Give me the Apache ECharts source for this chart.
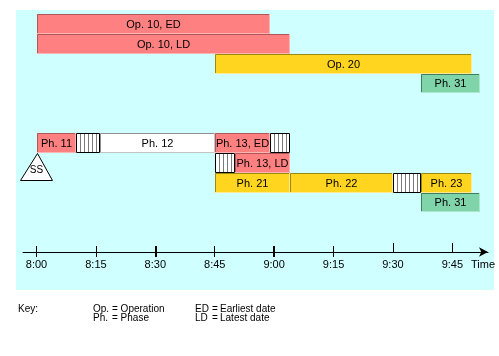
<!DOCTYPE html>
<html>
<head>
<meta charset="utf-8">
<script src="https://cdn.jsdelivr.net/npm/echarts@6/dist/echarts.min.js"></script>
<style>
html,body{margin:0;padding:0;background:#fff;}
#chart{width:499px;height:356px;}
</style>
</head>
<body>
<div id="chart"></div>
<script>
// Data: times in minutes after 8:00
const labels = ['Op. 10, ED','Op. 10, LD','Op. 20','Ph. 31','Ph. 11','','Ph. 12','Ph. 13, ED','','','Ph. 13, LD','Ph. 21','Ph. 22','','Ph. 23','Ph. 31','SS'];
const starts = [0, 0, 45, 97, 0, 10, 16, 45, 59, 45, 50, 45, 64, 90, 97, 97, 0];
const ends   = [59, 64, 110, 112, 10, 16, 45, 59, 64, 50, 64, 64, 90, 97, 110, 112, 0];
const rows   = [0, 1, 2, 3, 6, 6, 6, 6, 6, 7, 7, 8, 8, 8, 8, 9, 6];
const kinds  = ['red','red','yellow','green','red','hatch','white','red','hatch','hatch','red','yellow','yellow','hatch','yellow','green','ss'];

const tickValues = [0, 15, 30, 45, 60, 75, 90, 105];
const tickLabels = ['8:00','8:15','8:30','8:45','9:00','9:15','9:30','9:45'];
const thickTicks = [30, 60];
const normalTicks = [0, 15, 45, 75];
const longTicks = [90, 105];

const keyRows = [
  ['Op.', '= Operation', 'ED', '=', 'Earliest date'],
  ['Ph.', '= Phase', 'LD', '=', 'Latest date']
];

const palette = {
  red:    {fill:'#FF8080', dark:'#B05858', light:'#FFB4B4'},
  yellow: {fill:'#FFD520', dark:'#9A8A10', light:'#FFE890'},
  green:  {fill:'#7FD4AA', dark:'#3E7E5E', light:'#AEE8CC'},
  white:  {fill:'#FFFFFF', dark:'#909090', light:'#C4C4C4'}
};
const FONT = '11px "Liberation Sans", Arial, sans-serif';
const KEYFONT = '10px "Liberation Sans", Arial, sans-serif';

function renderItem(params, api) {
  const i = params.dataIndex;
  const kind = kinds[i];
  const p0 = api.coord([api.value(0), api.value(2)]);
  const p1 = api.coord([api.value(1), api.value(2) + 1]);
  const x0 = Math.round(p0[0]), y0 = Math.round(p0[1]);
  const x1 = Math.round(p1[0]), y1 = Math.round(p1[1]);
  if (kind === 'ss') {
    const ax = x0 + 0.5, ay = y1 + 0.5;
    return {type:'group', children:[
      {type:'polygon', shape:{points:[[ax, ay],[ax-17, ay+27],[ax+15, ay+27]]},
       style:{fill:'#fff', stroke:'#000', lineWidth:1}},
      {type:'text', style:{x:ax-1, y:ay+17, text:labels[i], align:'center', verticalAlign:'middle',
        font:'10px "Liberation Sans", sans-serif', fill:'#000'}}
    ]};
  }
  const w = x1 - x0, h = y1 - y0;
  const children = [];
  if (kind === 'hatch') {
    children.push({type:'rect', shape:{x:x0, y:y0, width:w, height:h}, style:{fill:'#fff'}});
    for (let xx = x0 + 4; xx < x1 - 1; xx += 4) {
      children.push({type:'line', shape:{x1:xx+0.5, y1:y0, x2:xx+0.5, y2:y1}, style:{stroke:'#7a7a7a', lineWidth:1}});
    }
    children.push({type:'rect', shape:{x:x0+0.5, y:y0+0.5, width:w-1, height:h-1}, style:{fill:'none', stroke:'#000', lineWidth:1}});
  } else {
    const c = palette[kind];
    children.push({type:'rect', shape:{x:x0, y:y0, width:w, height:h}, style:{fill:c.fill}});
    children.push({type:'polyline', shape:{points:[[x0, y1-0.5],[x1-0.5, y1-0.5],[x1-0.5, y0]]}, style:{stroke:c.light, lineWidth:1, fill:'none'}});
    children.push({type:'polyline', shape:{points:[[x0+0.5, y1-1],[x0+0.5, y0+0.5],[x1-1, y0+0.5]]}, style:{stroke:c.dark, lineWidth:1, fill:'none'}});
  }
  if (labels[i]) {
    children.push({type:'text', style:{x:(x0+x1)/2, y:(y0+y1)/2 + 0.5, text:labels[i], align:'center', verticalAlign:'middle', font:FONT, fill:'#000'}});
  }
  return {type:'group', children};
}

const XMIN = -3.41, XMAX = 114.0;
const GRID = {left:23, right:11, top:14, bottom:104, containLabel:false};
function tickAxis(g, values, inside, len, width) {
  return {
    type:'value', min:XMIN, max:XMAX, position:'bottom', gridIndex:g,
    axisLine:{show:false, onZero:false}, axisLabel:{show:false}, splitLine:{show:false},
    axisTick:{show:true, inside:inside, length:len, customValues:values, lineStyle:{color:'#000', width:width}}
  };
}
const extraTicks = [
  [thickTicks, true, 6, 2],
  [longTicks, true, 9, 1],
  [normalTicks, false, 5, 1],
  [thickTicks, false, 5, 2]
];

const chart = echarts.init(document.getElementById('chart'), null, {renderer:'canvas'});
chart.setOption({
  animation:false,
  backgroundColor:'#fff',
  graphic:[
    {type:'rect', z:-10, shape:{x:16, y:10, width:478, height:280}, style:{fill:'#D0FFFF'}},
    ...keyRows.flatMap((r, k) => {
      const y = 309 + k*9;
      const xs = [93, 112, 195, 212, 220];
      const items = r.map((t, j) => ({type:'text', style:{x:xs[j], y:y, text:t, verticalAlign:'middle', font:KEYFONT, fill:'#000'}}));
      if (k === 0) items.push({type:'text', style:{x:18, y:y, text:'Key:', verticalAlign:'middle', font:KEYFONT, fill:'#000'}});
      return items;
    })
  ],
  grid: [0,1,2,3,4].map(() => Object.assign({}, GRID)),
  xAxis:[
    {
      type:'value', min:XMIN, max:XMAX, position:'bottom', gridIndex:0,
      axisLine:{show:true, onZero:false, lineStyle:{color:'#000', width:1}, symbol:['none','arrow'], symbolSize:[7,9]},
      axisTick:{show:true, inside:true, length:6, customValues:normalTicks, lineStyle:{color:'#000'}},
      axisLabel:{show:true, customValues:tickValues, margin:7, color:'#000',
        fontFamily:'"Liberation Sans", Arial, sans-serif', fontSize:11,
        formatter:(v) => tickLabels[tickValues.indexOf(Math.round(v))] || ''},
      splitLine:{show:false},
      name:'Time', nameLocation:'end', nameGap:-17,
      nameTextStyle:{color:'#000', fontFamily:'"Liberation Sans", Arial, sans-serif', fontSize:11, verticalAlign:'top', align:'left', padding:[7,0,0,0]}
    },
    ...extraTicks.map((t, k) => tickAxis(k+1, t[0], t[1], t[2], t[3]))
  ],
  yAxis:[0,1,2,3,4].map(g => ({type:'value', min:0, max:12, inverse:true, show:false, gridIndex:g})),
  series:[{
    type:'custom',
    renderItem:renderItem,
    xAxisIndex:0, yAxisIndex:0,
    encode:{x:[0,1], y:2},
    data: starts.map((s, i) => [s, ends[i], rows[i]]),
    clip:false
  }]
});
</script>
</body>
</html>
